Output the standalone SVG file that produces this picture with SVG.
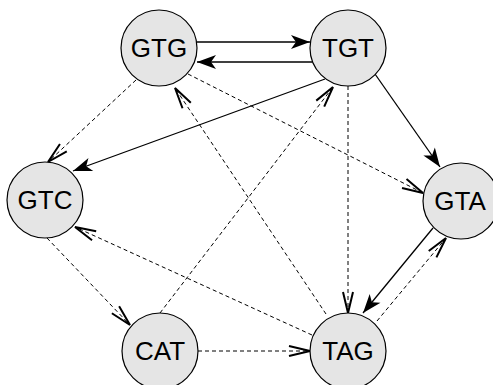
<svg xmlns="http://www.w3.org/2000/svg" width="493" height="385" viewBox="0 0 493 385">
<defs>
<style>
.node circle{fill:#e5e5e5;stroke:#000;stroke-width:1.2}
.node text{font-family:"Liberation Sans",Arial,sans-serif;font-size:26px;fill:#000;text-anchor:middle}
.solid{fill:none;stroke:#000;stroke-width:1.3;marker-end:url(#filled)}
.dash{fill:none;stroke:#000;stroke-width:1;stroke-dasharray:4,3;marker-end:url(#open)}
</style>
<marker id="filled" viewBox="-20 -8 22 16" refX="0" refY="0" markerWidth="22" markerHeight="16" markerUnits="userSpaceOnUse" orient="auto">
<path d="M0,0 L-19,-7 L-14,0 L-19,7 Z" fill="#000" stroke="none"/>
</marker>
<marker id="open" viewBox="-23 -8 26 16" refX="0" refY="0" markerWidth="26" markerHeight="16" markerUnits="userSpaceOnUse" orient="auto">
<path d="M-21,-5 L0,0 L-21,5" fill="none" stroke="#000" stroke-width="2" stroke-dasharray="none"/>
</marker>
</defs>
<g id="connectors">
<path class="solid" d="M197,42 L310,42"/>
<path class="solid" d="M312,62 L197,62"/>
<path class="solid" d="M325,79 L73,171"/>
<path class="solid" d="M375,74 L440,167"/>
<path class="solid" d="M433,228 L363,313"/>
<path class="dash" d="M136,80 L48,162"/>
<path class="dash" d="M188,74 L423,193"/>
<path class="dash" d="M348,86 L348,313"/>
<path class="dash" d="M160,313 L333,87"/>
<path class="dash" d="M326,314 L175,88"/>
<path class="dash" d="M312,335 L75,227"/>
<path class="dash" d="M47,238 L130,325"/>
<path class="dash" d="M198,351 L310,351"/>
<path class="dash" d="M377,321 L446,238"/>
</g>
<g id="GTG" class="node"><circle cx="159" cy="48" r="38"/><text x="159" y="57">GTG</text></g>
<g id="TGT" class="node"><circle cx="348" cy="48" r="38"/><text x="348" y="57">TGT</text></g>
<g id="GTC" class="node"><circle cx="45" cy="200" r="38"/><text x="45" y="209">GTC</text></g>
<g id="GTA" class="node"><circle cx="461" cy="201" r="38"/><text x="460" y="210">GTA</text></g>
<g id="CAT" class="node"><circle cx="160" cy="351" r="38"/><text x="160" y="360">CAT</text></g>
<g id="TAG" class="node"><circle cx="348" cy="351" r="38"/><text x="348" y="360">TAG</text></g>
</svg>
